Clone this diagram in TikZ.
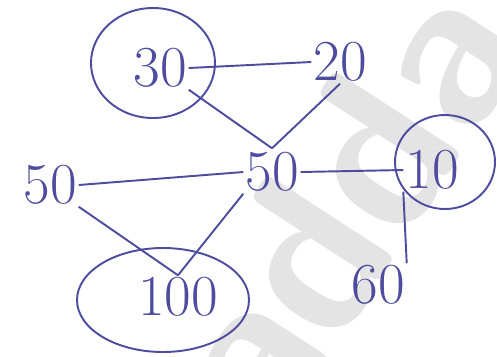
\documentclass[tikz,border=0pt]{standalone}
\usepackage{xcolor}
\usetikzlibrary{calc}
\definecolor{inkblue}{HTML}{4E4C9E}
\definecolor{markgray}{HTML}{E4E4E4}

\begin{document}
\begin{tikzpicture}[x=0.02cm,y=-0.02cm,
    num/.style={inkblue,font=\fontsize{33}{33}\selectfont,inner sep=1pt},
    edge/.style={inkblue,line width=1.1pt},
    ring/.style={inkblue,line width=1.1pt}]
  \useasboundingbox (0,0) rectangle (497,356);

  % watermark
  \node[markgray,rotate=57,font=\sffamily\bfseries\fontsize{125}{125}\selectfont]
    (mark) at (340,205){adda};

  % values
  \node[num] (n30) at (160,68){30};
  \node[num] (n20) at (340,62){20};
  \node[num] (n50l) at (50,185){50};
  \node[num] (n50c) at (272,172){50};
  \node[num] (n10) at (432,170){10};
  \node[num] (n100) at (178,297){100};
  \node[num] (n60) at (378,285){60};

  % circled values
  \draw[ring] (153,63) ellipse (62 and 55);
  \draw[ring] (445,162) ellipse (50 and 47);
  \draw[ring] (163,300) ellipse (86 and 52);

  % links
  \draw[edge] (n30.east) -- (n20.west);
  \coordinate (meet) at ($(n50c.north)+(0,-2)$);
  \draw[edge] (n30.south east) -- (meet);
  \draw[edge] (n20.south) -- (meet);
  \draw[edge] (n50l.east) -- (n50c.west);
  \draw[edge] (n50c.east) -- (n10.west);
  \draw[edge] (n50l.south east) -- (n100.north);
  \draw[edge] (n50c.south west) -- (n100.north);
  \draw[edge] (n10.south west) -- (n60.north east);
\end{tikzpicture}
\end{document}
